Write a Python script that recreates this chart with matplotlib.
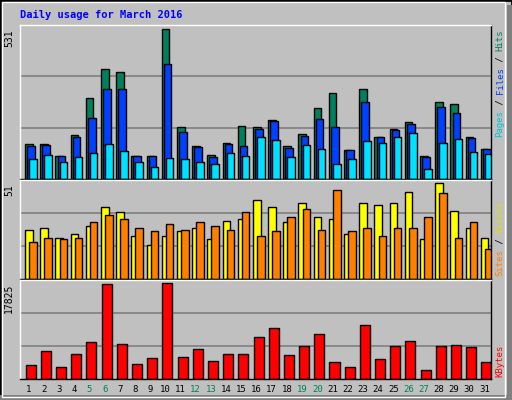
import matplotlib
matplotlib.use("Agg")
import matplotlib.pyplot as plt
from matplotlib.patches import Rectangle

days = list(range(1, 32))
hits = [124,124,83,156,286,390,380,80,80,531,185,116,84,127,189,185,210,116,160,253,304,102,318,149,178,203,80,275,268,149,106]
files = [116,120,80,149,217,318,318,80,80,408,167,113,77,124,116,178,207,109,153,214,185,102,275,149,174,196,77,257,235,145,106]
pages = [70,84,62,77,91,124,98,59,41,73,70,59,52,91,80,149,138,77,120,106,55,70,135,127,149,163,37,127,142,95,88]
visits = [26,27,22,24,28,38,35.5,23,18,23,25.5,27,21,31,32,42,38,30.5,40.5,33,32,24,40.5,39,40.5,46,21,51,36,27,22]
sites = [19.4,22,21,22,30.5,34,32,27,25.5,29,26,30.5,28,26,35.5,23,25.5,33,37,26,47,25.5,27,23,27,27,33,45.5,22,30.5,16]
kbytes = [2600,5140,2210,4550,6900,17630,6500,2800,3970,17825,4160,5530,3380,4550,4550,7870,9430,4360,6110,8260,3190,2210,10020,3770,6110,7090,1630,6110,6310,5920,3190]
weekends = [5,6,12,13,19,20,26,27]

W, H = 512, 400
fig = plt.figure(figsize=(W/100, H/100), dpi=100)
fig.patch.set_facecolor('#C0C0C0')
# borders
fig.add_artist(Rectangle((0, 0), 1, 1, transform=fig.transFigure, fill=False, ec='black', lw=2))
fig.add_artist(Rectangle((507/W, 0), 5/W, 1-5/H, transform=fig.transFigure, fc='#808080', ec='none'))
fig.add_artist(Rectangle((0, 0), 1-5/W, 5/H, transform=fig.transFigure, fc='#808080', ec='none'))
fig.add_artist(Rectangle((2/W, 3/H), 503/W, 395/H, transform=fig.transFigure, fill=False, ec='white', lw=1))

def ax_px(x0, y0, x1, y1):
    return fig.add_axes([x0/W, 1-y1/H, (x1-x0)/W, (y1-y0)/H])

L, R = 20, 491
ax1 = ax_px(L, 25, R, 179)
ax2 = ax_px(L, 180, R, 279)
ax3 = ax_px(L, 280, R, 379)

for ax in (ax1, ax2, ax3):
    ax.set_facecolor('#C0C0C0')
    ax.set_xlim(0.5, 31.5)
    ax.set_xticks([]); ax.set_yticks([])
    for s in ax.spines.values():
        s.set_color('black'); s.set_linewidth(1)
    ax.spines['top'].set_color('white'); ax.spines['left'].set_color('white')

def grid(ax, top):
    for f in (1/3, 2/3):
        ax.axhline(top*f*1.03, color='#808080', lw=1.2, zorder=0)

ax1.set_ylim(0, 531*1.03)
grid(ax1, 531)
ax1.bar([d-0.17 for d in days], hits, width=0.5, align='edge', color='#00805C', ec='black', lw=1)
ax1.bar([d-0.03 for d in days], files, width=0.5, align='edge', color='#0040FF', ec='black', lw=1)
ax1.bar([d+0.1 for d in days], pages, width=0.5, align='edge', color='#00E0FF', ec='black', lw=1)

ax2.set_ylim(0, 51*1.03)
ax2.axhline(17.5, color='#808080', lw=1.2, zorder=0)
ax2.axhline(35, color='#808080', lw=1.2, zorder=0)
ax2.bar([d-0.17 for d in days], visits, width=0.5, align='edge', color='#FFFF00', ec='black', lw=1)
ax2.bar([d+0.1 for d in days], sites, width=0.5, align='edge', color='#FF8000', ec='black', lw=1)

ax3.set_ylim(0, 17825*1.03)
grid(ax3, 17825)
ax3.bar([d-0.13 for d in days], kbytes, width=0.66, align='edge', color='#FF0000', ec='black', lw=1)

mono = 'DejaVu Sans Mono'
fig.text(20/W, 1-15/H, 'Daily usage for March 2016', color='#0000FF', family=mono,
         fontweight='bold', fontsize=7.5, va='center', ha='left')
for lab, y in (('531', 29), ('51', 184), ('17825', 284)):
    fig.text(9/W, 1-y/H, lab, rotation=90, family=mono, fontsize=7, va='top', ha='center')
for d in days:
    x = L + (d-0.5)/31*(R-L) + 1
    fig.text(x/W, 1-389/H, str(d), ha='center', va='center', fontsize=6.5, family=mono,
             color='#00805C' if d in weekends else 'black')

def vlabel(parts, ybottom):
    cw = 5.4
    y = ybottom
    for txt, col in parts:
        fig.text(500/W, 1-y/H, txt, rotation=90, color=col, family=mono, fontsize=6.5,
                 ha='center', va='bottom')
        y -= cw*len(txt)

vlabel([('Pages', '#00C0E0'), (' / ', 'black'), ('Files', '#0040FF'), (' / ', 'black'), ('Hits', '#00805C')], 137)
vlabel([('Sites', '#FF8000'), (' / ', 'black'), ('Visits', '#E0E000')], 276)
vlabel([('KBytes', '#FF0000')], 377)

fig.savefig('out.png', dpi=100, facecolor=fig.get_facecolor())
